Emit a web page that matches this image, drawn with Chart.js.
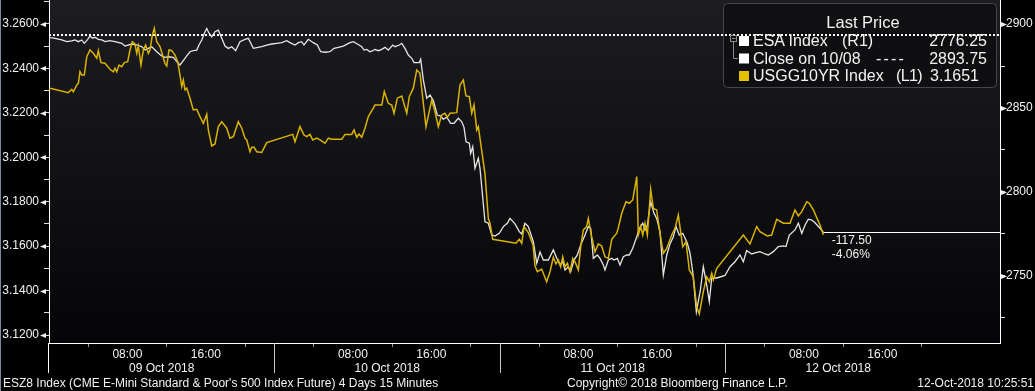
<!DOCTYPE html>
<html><head><meta charset="utf-8">
<script src="https://cdn.jsdelivr.net/npm/chart.js@4.4.0/dist/chart.umd.min.js"></script>
<style>
html,body{margin:0;padding:0;background:#000;overflow:hidden}
#wrap{position:relative;width:1035px;height:391px}
canvas{position:absolute;left:0;top:0}
.t{position:absolute;color:#f2f2f2;font-family:'Liberation Sans',Arial,sans-serif;white-space:pre}
.lg{font-size:16px;line-height:18px}
.ft{font-size:12px;line-height:14px}
</style></head><body>
<div id="wrap">
<canvas id="c" width="1035" height="391"></canvas>
<div class="t" id="lgTitle" style="font-size:16.5px;line-height:18px;left:826px;top:12.7px;width:74px;text-align:center">Last Price</div>
<div class="t lg" id="r1a" style="left:753px;top:31.7px"></div>
<div class="t lg" id="r1b" style="left:842px;top:31.7px"></div>
<div class="t lg" id="r1c" style="left:900px;top:31.7px;width:87px;text-align:right"></div>
<div class="t lg" id="r2a" style="left:753px;top:49.5px"></div>
<div class="t lg" id="r2b" style="left:876px;top:49.5px;letter-spacing:2.2px">----</div>
<div class="t lg" id="r2c" style="left:900px;top:49.5px;width:87px;text-align:right"></div>
<div class="t lg" id="r3a" style="left:753px;top:67px"></div>
<div class="t lg" id="r3b" style="left:896px;top:67px;letter-spacing:-0.6px"></div>
<div class="t lg" id="r3c" style="left:930px;top:67px"></div>
<div class="t ft" id="chg1"></div>
<div class="t ft" id="chg2"></div>
<div class="t ft" id="foot1" style="left:3px;top:376px"></div>
<div class="t ft" id="foot2" style="left:567px;top:376px"></div>
<div class="t ft" id="foot3" style="right:1px;top:376px;text-align:right"></div>
</div>
<script>
// ---------------- DATA ----------------
// x = trading hours on the compressed intraday axis (23 h per day slot, day 0 = 09 Oct 2018)
const dayLabels = ['09 Oct 2018', '10 Oct 2018', '11 Oct 2018', '12 Oct 2018'];
const timeLabels = ['08:00', '16:00'];
const timeLabelHours = [8, 16];
const minorTickHours = [4, 12, 20];
const HOURS_PER_DAY = 23;

const yieldMajorTicks = [3.12, 3.14, 3.16, 3.18, 3.20, 3.22, 3.24, 3.26];
const yieldMinorTicks = [3.13, 3.15, 3.17, 3.19, 3.21, 3.23, 3.25, 3.27];
const esaMajorTicks = [2750, 2800, 2850, 2900];
const esaMinorTicks = [2725, 2775, 2825, 2875];

const esaCloseOn1008 = 2893.75;

// USGG10YR Index (L1)
const ustTime = [0,1.97,2.32,2.48,2.83,2.99,3.16,3.34,3.60,3.85,4.18,4.52,4.87,5.03,5.30,5.71,6.22,6.56,6.73,6.91,7.14,7.42,7.68,8.03,8.26,8.50,8.77,8.95,9.11,9.38,9.62,9.86,10.13,10.30,10.54,10.74,10.99,11.32,11.83,12.01,12.24,12.52,12.85,13.13,13.36,13.54,13.70,13.87,14.05,14.38,14.72,15.07,15.40,15.74,16.09,16.25,16.60,16.93,17.27,17.62,18.13,18.46,18.80,19.31,19.66,19.99,20.17,20.50,20.68,20.91,21.19,21.70,22.21,24.86,25.09,25.60,26.01,26.29,26.62,26.90,27.31,27.64,28.15,28.49,28.84,29.86,30.19,30.88,31.11,31.39,31.62,31.90,32.23,32.57,33.08,33.25,33.94,34.20,34.61,34.96,35.19,35.53,35.98,36.49,36.75,37.16,37.51,37.84,38.45,39.04,39.37,39.71,40.05,40.39,40.63,40.90,41.59,41.92,42.26,42.53,42.87,43.12,43.35,43.63,43.79,44.47,44.81,44.98,45.26,47.63,47.97,48.22,48.45,48.89,49.37,49.57,49.81,50.25,50.76,51.10,51.44,51.71,51.95,52.19,52.40,52.63,52.87,53.14,53.42,53.65,53.99,54.23,54.50,54.84,55.01,55.35,55.69,56.03,56.37,56.71,57.05,57.40,57.91,58.07,58.42,58.85,59.19,59.54,59.95,60.11,60.35,60.56,60.79,61.03,61.37,61.64,61.98,62.32,62.66,63.01,63.52,63.85,64.19,64.64,64.97,65.31,65.72,66.06,66.33,66.74,67.09,67.35,67.60,67.76,68.11,70.82,71.50,72.18,72.52,73.27,73.71,74.22,74.90,75.58,76.09,76.43,76.78,77.29,77.55,77.96,78.64,78.98];
const ustYield = [3.2312,3.2291,3.2306,3.2295,3.2325,3.2333,3.2385,3.2370,3.2370,3.2453,3.2483,3.2468,3.2446,3.2480,3.2426,3.2423,3.2396,3.2385,3.2401,3.2385,3.2415,3.2408,3.2426,3.2430,3.2483,3.2520,3.2510,3.2468,3.2501,3.2415,3.2483,3.2505,3.2468,3.2483,3.2550,3.2581,3.2520,3.2498,3.2423,3.2411,3.2483,3.2480,3.2460,3.2430,3.2370,3.2318,3.2348,3.2303,3.2311,3.2266,3.2213,3.2216,3.2183,3.2153,3.2194,3.2123,3.2051,3.2060,3.2138,3.2160,3.2131,3.2086,3.2093,3.2160,3.2131,3.2086,3.2078,3.2025,3.2045,3.2045,3.2025,3.2022,3.2066,3.2103,3.2070,3.2138,3.2100,3.2093,3.2103,3.2078,3.2086,3.2078,3.2063,3.2086,3.2081,3.2081,3.2103,3.2103,3.2123,3.2090,3.2105,3.2090,3.2131,3.2183,3.2221,3.2235,3.2235,3.2295,3.2243,3.2235,3.2198,3.2266,3.2276,3.2198,3.2273,3.2311,3.2393,3.2378,3.2138,3.2258,3.2205,3.2138,3.2190,3.2198,3.2180,3.2198,3.2201,3.2325,3.2348,3.2276,3.2273,3.2198,3.2235,3.2123,3.2138,3.1925,3.1725,3.1703,3.1631,3.1613,3.1631,3.1613,3.1688,3.1661,3.1605,3.1511,3.1485,3.1497,3.1440,3.1485,3.1550,3.1520,3.1538,3.1507,3.1552,3.1507,3.1523,3.1485,3.1545,3.1530,3.1493,3.1597,3.1673,3.1688,3.1725,3.1643,3.1575,3.1610,3.1601,3.1552,3.1545,3.1631,3.1658,3.1682,3.1748,3.1800,3.1793,3.1808,3.1913,3.1650,3.1688,3.1650,3.1703,3.1650,3.1856,3.1770,3.1763,3.1658,3.1568,3.1590,3.1650,3.1680,3.1740,3.1597,3.1620,3.1493,3.1462,3.1327,3.1295,3.1395,3.1462,3.1440,3.1478,3.1448,3.1500,3.1650,3.1610,3.1688,3.1665,3.1646,3.1650,3.1721,3.1703,3.1703,3.1763,3.1736,3.1755,3.1800,3.1793,3.1763,3.1695,3.1651];

// ESA Index (R1)
const esaTime = [0,0.61,1.30,1.81,2.32,2.65,2.99,3.34,3.60,3.95,4.18,4.42,4.69,5.03,5.38,5.71,6.22,6.73,7.42,7.75,8.44,9.05,9.46,9.79,10.13,10.48,10.99,11.50,11.83,12.17,12.68,13.03,13.36,13.70,14.05,14.38,14.72,15.07,15.30,15.58,15.84,16.09,16.32,16.60,16.93,17.27,17.62,17.95,18.29,18.64,19.04,19.48,19.99,20.33,20.84,21.19,21.70,22.21,22.72,23.23,23.74,24.25,24.58,25.09,25.43,25.77,26.01,26.45,26.96,27.37,27.71,28.15,28.66,29.07,29.51,30.02,30.70,31.04,31.45,31.90,32.13,32.41,32.74,33.02,33.25,33.59,33.94,34.27,34.61,35.06,35.29,35.73,35.98,36.31,36.65,37.00,37.23,37.77,37.91,38.18,38.53,38.86,39.20,39.61,39.95,40.22,40.57,40.97,41.31,41.75,42.10,42.33,42.54,42.87,43.01,43.22,43.45,43.79,43.96,44.47,44.81,45.16,45.49,45.93,46.34,46.75,47.02,47.53,47.97,48.22,48.55,48.89,49.40,49.75,50.08,50.42,50.93,51.44,51.79,52.12,52.40,52.63,52.97,53.21,53.55,53.89,54.23,54.67,55.01,55.25,55.52,55.93,56.20,56.54,56.71,57.05,57.40,57.63,57.97,58.24,58.58,58.93,59.19,59.54,59.95,60.21,60.56,60.79,61.03,61.37,61.71,61.98,62.32,62.66,63.01,63.34,63.68,63.95,64.29,64.64,65.11,65.38,65.66,66.03,66.44,66.74,67.09,67.35,67.60,68.11,68.95,69.46,69.97,70.48,70.82,71.16,71.67,72.11,72.52,73.03,73.37,73.88,74.39,74.90,75.17,75.51,76.09,76.43,76.78,77.12,77.45,77.80,78.13,78.64,78.98];
const esaPrice = [2892.1,2891.5,2890.5,2889.5,2889.9,2890.5,2889.5,2890.5,2888.5,2890.9,2892.9,2891.5,2892.1,2890.9,2890.5,2889.5,2890.1,2889.5,2888.5,2886.9,2888.1,2887.5,2886.5,2884.5,2885.5,2886.5,2883.5,2881.0,2880.2,2880.5,2880.2,2877.6,2875.6,2878.2,2881.0,2883.5,2884.1,2884.5,2887.5,2890.5,2894.5,2897.4,2894.5,2892.4,2895.4,2896.4,2891.5,2886.9,2885.5,2886.5,2884.1,2889.5,2890.9,2891.5,2885.5,2885.9,2886.5,2887.5,2888.1,2888.5,2888.9,2890.1,2888.9,2887.5,2888.9,2889.5,2887.5,2890.9,2888.9,2887.5,2883.5,2883.2,2883.5,2885.5,2886.1,2886.9,2888.9,2889.5,2888.1,2886.5,2884.5,2884.9,2883.5,2884.1,2884.9,2884.1,2884.9,2886.1,2884.5,2887.5,2886.5,2887.5,2888.5,2885.5,2881.5,2879.6,2877.0,2877.0,2879.0,2866.7,2855.8,2857.7,2854.4,2845.8,2845.2,2843.3,2844.5,2840.9,2840.9,2843.9,2841.8,2838.5,2829.9,2829.0,2823.0,2827.0,2814.1,2820.1,2814.1,2782.3,2781.4,2774.4,2773.8,2775.4,2779.4,2781.4,2784.3,2781.0,2776.4,2775.0,2781.4,2779.4,2770.4,2757.6,2764.3,2759.5,2759.5,2765.5,2760.5,2756.6,2758.5,2753.6,2755.5,2752.6,2759.5,2762.5,2768.5,2774.4,2779.4,2778.4,2760.5,2762.5,2760.5,2756.6,2753.6,2759.5,2760.5,2759.5,2760.5,2756.6,2761.5,2762.5,2762.5,2766.5,2773.4,2778.4,2781.4,2777.4,2780.4,2794.2,2787.3,2784.3,2776.4,2750.6,2762.5,2769.1,2773.4,2779.4,2774.4,2775.4,2769.5,2763.7,2752.4,2728.6,2741.7,2755.5,2744.6,2734.7,2748.8,2748.8,2750.3,2755.5,2758.5,2762.5,2758.5,2765.1,2763.1,2763.9,2764.5,2763.1,2762.5,2764.5,2767.5,2767.9,2767.5,2774.4,2777.4,2781.4,2775.4,2780.4,2783.8,2783.3,2781.7,2778.4,2776.25];

// ---------------- SETUP ----------------
const FONT = "'Liberation Sans', Arial, sans-serif";
const WHITE_LINE = '#e6e6e6';
const GOLD = '#d8b300';
const X_MAX = 97.0;
const YL_MIN = 3.1164, YL_MAX = 3.2708;
const YR_MIN = 2710.1, YR_MAX = 2914.3;

// x ticks: minor marks, time labels, date labels
const xTicks = [];
dayLabels.forEach((d, i) => {
  const base = i * HOURS_PER_DAY;
  minorTickHours.forEach(h => xTicks.push({value: base + h, label: '', mark: true}));
  timeLabelHours.forEach((h, k) => xTicks.push({value: base + h, label: timeLabels[k], mark: false}));
  xTicks.push({value: base + HOURS_PER_DAY / 2, label: ['', d], mark: false});
});
xTicks.sort((a, b) => a.value - b.value);

const yieldTicks = [...yieldMajorTicks, ...yieldMinorTicks].sort((a, b) => a - b);
const esaTicks = [...esaMajorTicks, ...esaMinorTicks].sort((a, b) => a - b);
const isMajor = (arr, v) => arr.some(m => Math.abs(m - v) < 1e-6);

const lastEsa = esaPrice[esaPrice.length - 1];
const lastUst = ustYield[ustYield.length - 1];

const decor = {
  id: 'decor',
  beforeDraw(chart) {
    const {ctx, chartArea: a} = chart;
    ctx.save();
    ctx.fillStyle = '#000';
    ctx.fillRect(0, 0, chart.width, chart.height);
    const g = ctx.createLinearGradient(0, a.top, 0, a.bottom);
    g.addColorStop(0, '#1d1d21');
    g.addColorStop(1, '#050507');
    ctx.fillStyle = g;
    ctx.fillRect(a.left, a.top, a.right - a.left, a.bottom - a.top);
    ctx.fillStyle = '#7f8a99';
    ctx.fillRect(0, 0, 1, chart.height);
    ctx.restore();
  },
  beforeDatasetsDraw(chart) {
    const {ctx} = chart;
    ctx.save();
    ctx.beginPath();
    ctx.roundRect(723.5, 3.5, 273, 84, 4);
    ctx.fillStyle = 'rgba(14,14,17,0.85)';
    ctx.fill();
    ctx.strokeStyle = '#45454a';
    ctx.lineWidth = 1;
    ctx.stroke();
    ctx.restore();
  },
  afterDatasetsDraw(chart) {
    const {ctx, chartArea: a, scales} = chart;
    ctx.save();
    // close on 10/08 dotted line
    const yc = Math.round(scales.yR.getPixelForValue(esaCloseOn1008));
    ctx.strokeStyle = '#ffffff';
    ctx.lineWidth = 2;
    ctx.setLineDash([2, 2]);
    ctx.beginPath();
    ctx.moveTo(a.left, yc);
    ctx.lineTo(a.right, yc);
    ctx.stroke();
    ctx.setLineDash([]);
    // last price line
    const yl = Math.round(scales.yR.getPixelForValue(lastEsa)) + 0.5;
    const xl = scales.x.getPixelForValue(esaTime[esaTime.length - 1]);
    ctx.lineWidth = 1.2;
    ctx.beginPath();
    ctx.moveTo(xl, yl);
    ctx.lineTo(a.right, yl);
    ctx.stroke();
    ctx.restore();
  },
  afterDraw(chart) {
    const {ctx, chartArea: a, scales} = chart;
    ctx.save();
    ctx.fillStyle = '#f0f0f0';
    // major tick flags, left axis
    yieldMajorTicks.forEach(v => {
      const y = Math.round(scales.yL.getPixelForValue(v)) + 0.5;
      ctx.beginPath();
      ctx.moveTo(a.left - 9, y);
      ctx.lineTo(a.left - 3, y - 2.5);
      ctx.lineTo(a.left - 3, y + 2.5);
      ctx.closePath();
      ctx.fill();
    });
    // major tick flags, right axis
    esaMajorTicks.forEach(v => {
      const y = Math.round(scales.yR.getPixelForValue(v)) + 0.5;
      ctx.beginPath();
      ctx.moveTo(a.right + 7, y);
      ctx.lineTo(a.right + 1, y - 2.5);
      ctx.lineTo(a.right + 1, y + 2.5);
      ctx.closePath();
      ctx.fill();
    });
    // x axis: left frame extension and day separators
    ctx.lineWidth = 1;
    ctx.strokeStyle = '#ffffff';
    ctx.beginPath();
    ctx.moveTo(a.left - 0.5, a.bottom);
    ctx.lineTo(a.left - 0.5, a.bottom + 30);
    ctx.stroke();
    ctx.strokeStyle = '#c8c8c8';
    for (let i = 1; i < dayLabels.length; i++) {
      const x = Math.round(scales.x.getPixelForValue(i * HOURS_PER_DAY)) + 0.5;
      ctx.beginPath();
      ctx.moveTo(x, a.bottom);
      ctx.lineTo(x, a.bottom + 30);
      ctx.stroke();
    }
    // legend swatches
    ctx.fillStyle = '#ffffff';
    ctx.fillRect(739, 36, 10, 10);
    ctx.fillRect(739, 53.5, 10, 10);
    ctx.fillStyle = '#e3c000';
    ctx.fillRect(739, 71, 10, 10);
    // tree connector
    ctx.strokeStyle = '#8c8c8c';
    ctx.strokeRect(730.5, 35.5, 6, 6);
    ctx.beginPath();
    ctx.moveTo(732, 38.5); ctx.lineTo(735.5, 38.5);
    ctx.moveTo(733.5, 41.5); ctx.lineTo(733.5, 58.5); ctx.lineTo(738, 58.5);
    ctx.stroke();
    ctx.restore();
  }
};

const tickFont = {family: FONT, size: 12, lineHeight: 1.2};

const chart = new Chart(document.getElementById('c'), {
  type: 'line',
  data: {
    datasets: [
      {
        label: 'USGG10YR Index (L1)',
        data: ustTime.map((t, i) => ({x: t, y: ustYield[i]})),
        yAxisID: 'yL', borderColor: GOLD, borderWidth: 1.5,
        pointRadius: 0, tension: 0, order: 0
      },
      {
        label: 'ESA Index (R1)',
        data: esaTime.map((t, i) => ({x: t, y: esaPrice[i]})),
        yAxisID: 'yR', borderColor: WHITE_LINE, borderWidth: 1.3,
        pointRadius: 0, tension: 0, order: 1
      }
    ]
  },
  options: {
    responsive: false, animation: false, devicePixelRatio: 1,
    layout: {padding: 0},
    plugins: {legend: {display: false}, tooltip: {enabled: false}},
    scales: {
      x: {
        type: 'linear', position: 'bottom', min: 0, max: X_MAX,
        afterBuildTicks(s) { s.ticks = xTicks.map(t => ({value: t.value})); },
        afterFit(s) { s.height = 48; s.paddingLeft = 0; s.paddingRight = 0; },
        ticks: {
          autoSkip: false, maxRotation: 0, minRotation: 0, padding: 0,
          color: '#f2f2f2', font: tickFont,
          callback: (v, i) => xTicks[i] ? xTicks[i].label : ''
        },
        grid: {
          display: true, drawOnChartArea: false, drawTicks: true, tickLength: 4,
          tickColor: (c) => (c.tick && xTicks[c.index] && xTicks[c.index].mark) ? '#9a9a9a' : 'rgba(0,0,0,0)'
        },
        border: {display: true, color: '#ffffff', width: 1}
      },
      yL: {
        type: 'linear', position: 'left', min: YL_MIN, max: YL_MAX,
        afterBuildTicks(s) { s.ticks = yieldTicks.map(v => ({value: v})); },
        afterFit(s) { s.width = 49; s.paddingTop = 0; s.paddingBottom = 0; },
        ticks: {
          padding: 5, color: '#f2f2f2', font: tickFont,
          callback: (v) => isMajor(yieldMajorTicks, v) ? v.toFixed(4) : ''
        },
        grid: {display: true, drawOnChartArea: false, drawTicks: true, tickLength: 5, tickColor: '#dddddd'},
        border: {display: true, color: '#ffffff', width: 1}
      },
      yR: {
        type: 'linear', position: 'right', min: YR_MIN, max: YR_MAX,
        afterBuildTicks(s) { s.ticks = esaTicks.map(v => ({value: v})); },
        afterFit(s) { s.width = 35; s.paddingTop = 0; s.paddingBottom = 0; },
        ticks: {
          padding: 1, color: '#f2f2f2', font: tickFont,
          callback: (v) => isMajor(esaMajorTicks, v) ? String(v) : ''
        },
        grid: {display: true, drawOnChartArea: false, drawTicks: true, tickLength: 5, tickColor: '#dddddd'},
        border: {display: true, color: '#ffffff', width: 1}
      }
    }
  },
  plugins: [decor]
});

// ---------------- TEXT OVERLAYS ----------------
document.getElementById('r1a').textContent = 'ESA Index';
document.getElementById('r1b').textContent = '(R1)';
document.getElementById('r1c').textContent = lastEsa.toFixed(2);
document.getElementById('r2a').textContent = 'Close on 10/08';
document.getElementById('r2c').textContent = esaCloseOn1008.toFixed(2);
document.getElementById('r3a').textContent = 'USGG10YR Index';
document.getElementById('r3b').textContent = '(L1)';
document.getElementById('r3c').textContent = lastUst.toFixed(4);

const diff = lastEsa - esaCloseOn1008;
const pct = diff / esaCloseOn1008 * 100;
const xs = chart.scales.x.getPixelForValue(esaTime[esaTime.length - 1]);
const ys = chart.scales.yR.getPixelForValue(lastEsa);
const c1 = document.getElementById('chg1');
c1.textContent = diff.toFixed(2);
c1.style.left = (xs + 8.5) + 'px';
c1.style.top = (ys + 8 - 7) + 'px';
const c2 = document.getElementById('chg2');
c2.textContent = pct.toFixed(2) + '%';
c2.style.left = (xs + 8.5) + 'px';
c2.style.top = (ys + 22 - 7) + 'px';

document.getElementById('foot1').textContent = "ESZ8 Index (CME E-Mini Standard & Poor's 500 Index Future) 4 Days 15 Minutes";
document.getElementById('foot2').textContent = 'Copyright\u00A9 2018 Bloomberg Finance L.P.';
document.getElementById('foot3').textContent = '12-Oct-2018 10:25:51';
</script>
</body></html>
